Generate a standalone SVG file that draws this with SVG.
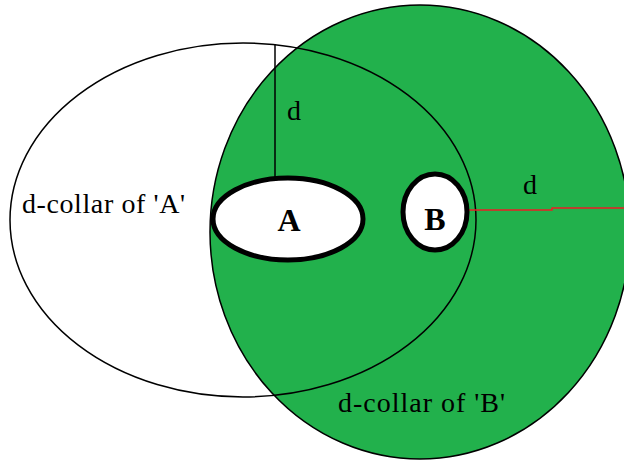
<svg xmlns="http://www.w3.org/2000/svg" width="624" height="463" viewBox="0 0 624 463">
<style>
.lbl{font-family:"Liberation Serif","Times New Roman",serif;font-size:28px;fill:#000}
.big{font-family:"Liberation Serif","Times New Roman",serif;font-size:32px;font-weight:bold;fill:#000;text-anchor:middle}
.thin{fill:none;stroke:#000;stroke-width:1.5}
.node{fill:#fff;stroke:#000;stroke-width:5}
</style>
<rect width="624" height="463" fill="#fff"/>
<g id="collarB">
<ellipse cx="420" cy="232" rx="210" ry="227" fill="#22b14c" stroke="#000" stroke-width="1.5"/>
</g>
<g id="collarA">
<ellipse class="thin" cx="243" cy="220" rx="233" ry="177"/>
</g>
<g id="connectors">
<line x1="275" y1="44" x2="275" y2="178" stroke="#000" stroke-width="1.5"/>
<polyline points="466,210 552,210 552,208 624,208" fill="none" stroke="#ed1c24" stroke-width="1.5"/>
</g>
<g id="A">
<ellipse class="node" cx="288" cy="219" rx="75" ry="41"/>
<text class="big" x="289" y="231">A</text>
</g>
<g id="B">
<ellipse class="node" cx="435" cy="212" rx="32" ry="38"/>
<text class="big" x="435" y="230">B</text>
</g>
<g id="labels">
<text class="lbl" x="287" y="120">d</text>
<text class="lbl" x="523" y="194">d</text>
<text class="lbl" x="22" y="213" textLength="163">d-collar of 'A'</text>
<text class="lbl" x="338" y="412" textLength="167">d-collar of 'B'</text>
</g>
</svg>
